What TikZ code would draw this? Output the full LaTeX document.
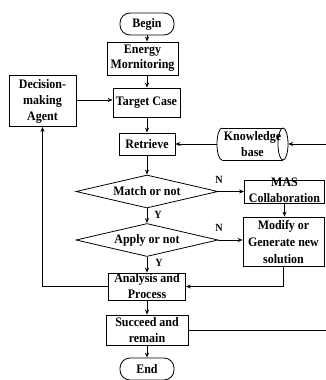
\documentclass[tikz,border=0pt]{standalone}
\usepackage{fontspec}
\setmainfont{Liberation Serif}[FakeStretch=0.92]
\usetikzlibrary{arrows.meta,shapes.geometric}
\begin{document}
\begin{tikzpicture}[x=1pt,y=-1pt,
  font=\bfseries\fontsize{13}{16}\selectfont,
  box/.style={draw, line width=0.8pt, inner sep=0pt, align=center},
  txt/.style={inner sep=0pt, align=center},
  term/.style={draw, line width=0.8pt, rounded corners=10pt, inner sep=0pt, minimum width=54pt, minimum height=22pt},
  dia/.style={draw, diamond, line width=0.8pt, inner sep=0pt, aspect=4.3, minimum width=142pt, minimum height=33pt},
  arr/.style={-{Stealth[length=5pt,width=4pt]}, line width=0.8pt},
  ln/.style={line width=0.8pt},
  lab/.style={font=\bfseries\fontsize{11}{12}\selectfont, inner sep=0pt}]
\useasboundingbox (0,0) rectangle (326,380);
\coordinate (col) at (147,0);
\node[term] (begin) at (147,24) {Begin};
\node[box, minimum width=71pt, minimum height=33pt, font=\bfseries\fontsize{13}{15}\selectfont] (em) at (142.5,58.5) {Energy\\Mornitoring};
\node[box, minimum width=67pt, minimum height=29pt] (tc) at (146.5,102.5) {Target Case};
\node[box, minimum width=67pt, minimum height=51pt] (dm) at (42.5,101) {Decision-\\making\\Agent};
\node[box, minimum width=56pt, minimum height=22pt] (ret) at (147,144) {Retrieve};
\node[txt, minimum width=71pt, minimum height=32pt] (kb) at (252.5,144) {Knowledge\\base};
\draw[ln] (222,128) -- (283,128) (222,160) -- (283,160);
\draw[ln] (222,128) arc[start angle=90, end angle=270, x radius=5, y radius=-16];
\draw[ln] (283,144) ellipse[x radius=5, y radius=16];
\node[dia] (match) at (147,191.5) {Match or not};
\node[box, minimum width=80pt, minimum height=23pt] (mas) at (284.5,191.5) {};
\node[txt] (mast) at (284.5,190) {MAS\\Collaboration};
\node[box, minimum width=81pt, minimum height=49pt, font=\bfseries\fontsize{13}{17}\selectfont] (mod) at (283.5,241.5) {Modify or\\Generate new\\solution};
\node[dia] (apply) at (147,240) {Apply or not};
\node[box, minimum width=77pt, minimum height=27pt] (ana) at (147,286.5) {};
\node[txt] (anat) at (147,286.5) {Analysis and\\Process};
\node[box, minimum width=82pt, minimum height=30pt] (suc) at (147,330) {Succeed and\\remain};
\node[term] (end) at (147,369) {End};
\coordinate (rin) at (326,144);
\coordinate (rout) at (326,330);
% connectors
\draw[arr] (begin.south) -- (begin.south |- em.north);
\draw[arr] (em.south -| col) -- (tc.north -| col);
\draw[arr] (dm.east |- 0,100) -- (tc.west |- 0,100);
\draw[arr] (tc.south -| col) -- (ret.north);
\draw[arr] (rin) -- (kb.east);
\draw[arr] (kb.west) -- (ret.east);
\draw[arr] (ret.south) -- (match.north);
\draw[arr] (match.east) -- (mas.west |- match.east);
\draw[arr] (mas.south) -- (mas.south |- mod.north);
\draw[arr] (match.south) -- (apply.north);
\draw[arr] (apply.east) -- (mod.west |- apply.east);
\draw[arr] (apply.south) -- (ana.north);
\draw[arr] (mod.south) |- (ana.east);
\draw[arr] (ana.west) -| (dm.south);
\draw[arr] (ana.south) -- (suc.north);
\draw[arr] (suc.south) -- (end.north);
\draw[ln] (suc.east) -- (rout);
% labels
\node[lab] (n1) at (219,180) {N};
\node[lab] (n2) at (219,228) {N};
\node[lab] (y1) at (158,215) {Y};
\node[lab] (y2) at (159,263) {Y};
\end{tikzpicture}
\end{document}
